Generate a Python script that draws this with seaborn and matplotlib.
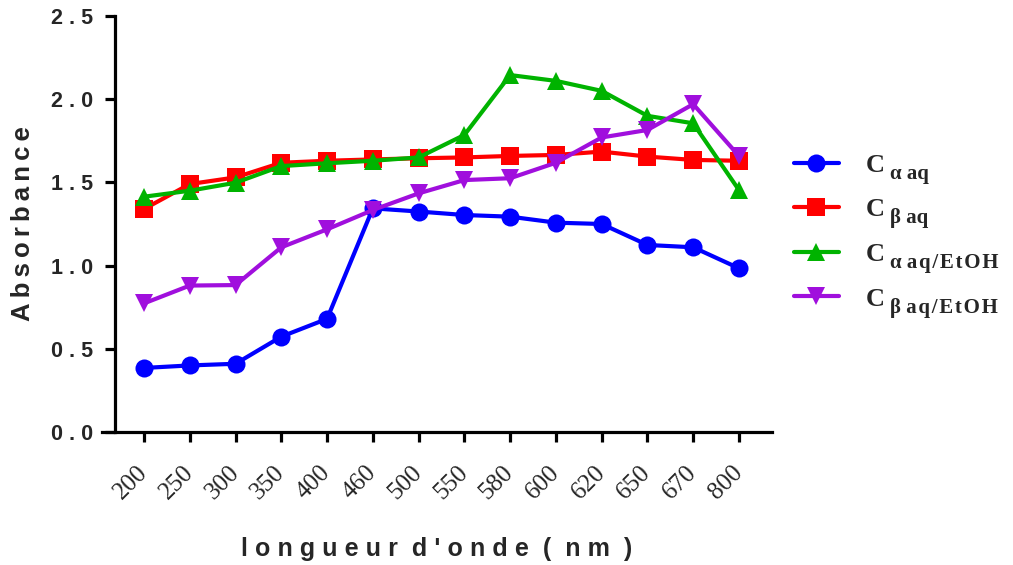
import matplotlib
matplotlib.use("Agg")
import matplotlib.pyplot as plt
from matplotlib.transforms import IdentityTransform
import seaborn as sns
import pandas as pd

wavelengths = ["200", "250", "300", "350", "400", "460", "500", "550",
               "580", "600", "620", "650", "670", "800"]
c_alpha_aq = [0.385, 0.40, 0.41, 0.573, 0.68, 1.344, 1.325, 1.304,
              1.294, 1.258, 1.25, 1.124, 1.11, 0.984]
c_beta_aq = [1.34, 1.49, 1.53, 1.618, 1.63, 1.638, 1.645, 1.65,
             1.659, 1.665, 1.685, 1.655, 1.635, 1.63]
c_alpha_etoh = [1.414, 1.45, 1.498, 1.598, 1.615, 1.63, 1.65, 1.785,
                2.145, 2.11, 2.05, 1.90, 1.855, 1.454]
c_beta_etoh = [0.773, 0.88, 0.883, 1.11, 1.218, 1.334, 1.434, 1.514,
               1.525, 1.618, 1.77, 1.815, 1.97, 1.659]
y_ticks = [0.0, 0.5, 1.0, 1.5, 2.0, 2.5]

series_names = ["Cα aq", "Cβ aq", "Cα aq/EtOH", "Cβ aq/EtOH"]
series_values = [c_alpha_aq, c_beta_aq, c_alpha_etoh, c_beta_etoh]
hs = "\u200a"
legend_subs = ["α aq", "β aq",
               "α " + hs.join("aq/EtOH"), "β " + hs.join("aq/EtOH")]

rows = []
for name, vals in zip(series_names, series_values):
    for i, (w, v) in enumerate(zip(wavelengths, vals)):
        rows.append({"pos": i, "wl": w, "A": v, "serie": name})
df = pd.DataFrame(rows)

sns.set_theme(style="white")
plt.rcParams["font.family"] = ["Liberation Sans", "DejaVu Sans"]

palette = {"Cα aq": "#0000FF", "Cβ aq": "#FF0000",
           "Cα aq/EtOH": "#00B300", "Cβ aq/EtOH": "#A00FDD"}
markers = {"Cα aq": "o", "Cβ aq": "s", "Cα aq/EtOH": "^", "Cβ aq/EtOH": "v"}

fig = plt.figure(figsize=(10.13, 5.65), dpi=100)
ax = fig.add_axes([0.1007, 0.2354, 0.762 - 0.1007, 0.9717 - 0.2354])

sns.lineplot(data=df, x="pos", y="A", hue="serie", style="serie",
             palette=palette, markers=markers, dashes=False,
             hue_order=series_names, style_order=series_names,
             linewidth=3, markersize=13, markeredgewidth=0, ax=ax)

ax.set_xlim(-0.918, 13.72)
ax.set_ylim(0, 2.5)
for s in ["top", "right"]:
    ax.spines[s].set_visible(False)
for s in ["left", "bottom"]:
    ax.spines[s].set_linewidth(2.3)
    ax.spines[s].set_color("black")
ax.spines["left"].set_position(("data", -0.634))

ts = "\u2009"
sp = "\u2009\u200a"
ax.set_xticks(range(len(wavelengths)))
ax.set_xticklabels(wavelengths, rotation=45, ha="right", va="center",
                   rotation_mode="anchor", fontsize=18,
                   family="Liberation Serif")
ax.set_yticks(y_ticks)
ax.set_yticklabels([" ".join(f"{t:.1f}") for t in y_ticks],
                   fontsize=15.5, fontweight="bold")
ax.tick_params(axis="both", direction="out", length=7, width=2.3,
               color="black", bottom=True, left=True)
ax.tick_params(axis="x", pad=20)
ax.tick_params(axis="y", pad=9)

xl = sp.join("longueur") + "  " + sp.join("d'onde") + "  (  " + sp.join("nm") + "  )"
ax.set_xlabel(xl, fontsize=18, fontweight="bold", labelpad=24)
ax.set_ylabel(ts.join("Absorbance"), fontsize=18.5, fontweight="bold", labelpad=11)

handles, labels = ax.get_legend_handles_labels()
hmap = dict(zip(labels, handles))
leg = ax.legend([hmap[n] for n in series_names], ["C"] * 4,
                loc="center left", bbox_to_anchor=(0.760, 0.5895),
                bbox_transform=fig.transFigure, frameon=False,
                prop={"family": "Liberation Serif", "weight": "bold", "size": 19},
                handlelength=1.72, handletextpad=1.0, labelspacing=0.8)

fig.canvas.draw()
renderer = fig.canvas.get_renderer()
for txt, sub in zip(leg.get_texts(), legend_subs):
    bb = txt.get_window_extent(renderer)
    bx, by = txt.get_transform().transform(txt.get_position())
    fig.text(bb.x1 + 6, by - 7, sub, transform=IdentityTransform(),
             ha="left", va="baseline", fontsize=15, fontweight="bold",
             family=["Liberation Serif", "DejaVu Serif"])

fig.savefig("out.png", dpi=100)
